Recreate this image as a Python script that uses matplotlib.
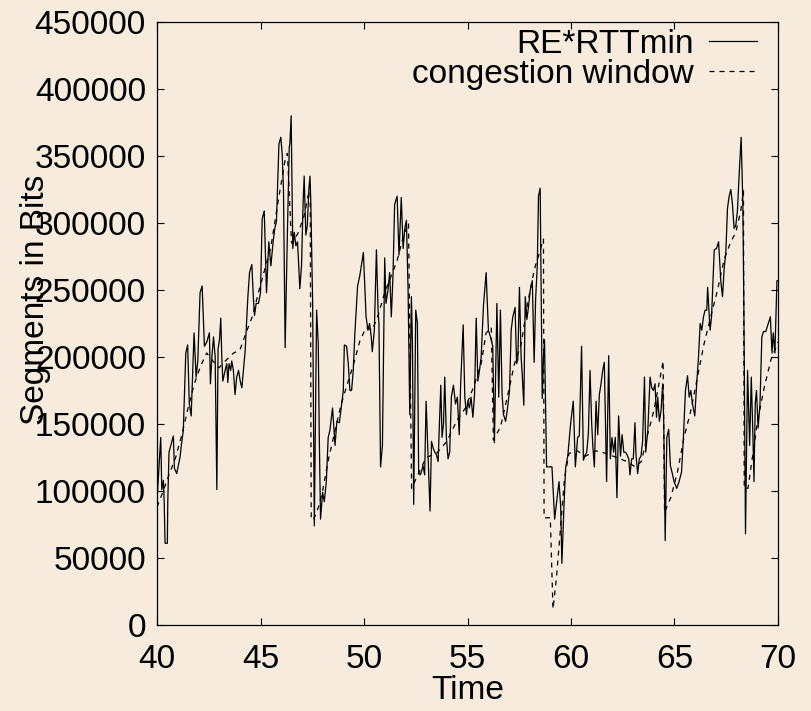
import numpy as np
import matplotlib
matplotlib.use("Agg")
import matplotlib.pyplot as plt

# RE*RTTmin samples: time (s), value (kbit)
re_time = [
    40.0, 40.18, 40.23, 40.31, 40.35, 40.39, 40.5, 40.52, 40.58, 40.79,
    40.84, 40.95, 41.11, 41.19, 41.27, 41.39, 41.48, 41.56, 41.65, 41.79,
    41.89, 41.97, 42.08, 42.18, 42.29, 42.4, 42.53, 42.58, 42.65, 42.73,
    42.81, 42.89, 42.95, 43.02, 43.08, 43.13, 43.18, 43.29, 43.37, 43.42,
    43.48, 43.56, 43.61, 43.69, 43.77, 43.85, 43.94, 44.02, 44.1, 44.19,
    44.26, 44.39, 44.47, 44.58, 44.66, 44.71, 44.79, 44.9, 45.0, 45.08,
    45.18, 45.29, 45.4, 45.5, 45.61, 45.69, 45.77, 45.89, 45.98, 46.05,
    46.11, 46.19, 46.29, 46.39, 46.42, 46.48, 46.56, 46.63, 46.71, 46.79,
    46.9, 46.98, 47.06, 47.11, 47.19, 47.26, 47.34, 47.39, 47.43, 47.52,
    47.6, 47.71, 47.79, 47.84, 47.9, 48.0, 48.08, 48.18, 48.27, 48.35,
    48.48, 48.6, 48.69, 48.81, 48.92, 49.0, 49.05, 49.16, 49.24, 49.32,
    49.4, 49.48, 49.56, 49.69, 49.8, 49.97, 50.1, 50.19, 50.27, 50.35,
    50.4, 50.5, 50.6, 50.68, 50.72, 50.8, 50.89, 51.0, 51.06, 51.16,
    51.24, 51.32, 51.4, 51.48, 51.6, 51.69, 51.8, 51.89, 51.97, 52.05,
    52.13, 52.21, 52.29, 52.34, 52.4, 52.5, 52.58, 52.64, 52.71, 52.77,
    52.85, 52.93, 53.0, 53.1, 53.19, 53.26, 53.34, 53.42, 53.5, 53.58,
    53.71, 53.77, 53.84, 53.9, 53.98, 54.06, 54.14, 54.22, 54.32, 54.42,
    54.51, 54.6, 54.67, 54.79, 54.87, 54.95, 55.01, 55.09, 55.17, 55.26,
    55.34, 55.42, 55.5, 55.58, 55.66, 55.77, 55.9, 56.01, 56.11, 56.22,
    56.3, 56.42, 56.51, 56.59, 56.67, 56.74, 56.84, 56.92, 57.03, 57.11,
    57.19, 57.3, 57.37, 57.43, 57.51, 57.59, 57.64, 57.72, 57.79, 57.87,
    57.95, 58.03, 58.13, 58.22, 58.29, 58.37, 58.43, 58.51, 58.61, 58.67,
    58.72, 58.82, 59.08, 59.21, 59.32, 59.42, 59.5, 59.56, 59.66, 59.74,
    59.85, 59.98, 60.11, 60.21, 60.32, 60.4, 60.51, 60.6, 60.69, 60.76,
    60.84, 60.92, 61.0, 61.06, 61.13, 61.21, 61.29, 61.37, 61.45, 61.53,
    61.61, 61.72, 61.82, 61.9, 61.98, 62.06, 62.14, 62.22, 62.3, 62.39,
    62.47, 62.55, 62.63, 62.71, 62.79, 62.85, 62.93, 63.01, 63.09, 63.14,
    63.22, 63.3, 63.38, 63.46, 63.55, 63.61, 63.71, 63.82, 63.9, 63.98,
    64.06, 64.13, 64.19, 64.27, 64.35, 64.43, 64.48, 64.55, 64.63, 64.72,
    64.8, 64.88, 64.98, 65.11, 65.22, 65.34, 65.43, 65.53, 65.63, 65.71,
    65.79, 65.87, 65.98, 66.08, 66.16, 66.24, 66.32, 66.4, 66.48, 66.56,
    66.6, 66.72, 66.79, 66.92, 67.03, 67.13, 67.24, 67.32, 67.4, 67.48,
    67.56, 67.64, 67.72, 67.8, 67.88, 67.96, 68.04, 68.13, 68.22, 68.3,
    68.35, 68.43, 68.53, 68.63, 68.71, 68.79, 68.84, 68.9, 68.96, 69.04,
    69.13, 69.22, 69.3, 69.41, 69.53, 69.63, 69.71, 69.77, 69.85, 69.95,
    70.03,
]
re_kbit = [
    93, 140, 101, 108, 90, 61, 61, 92, 129, 141,
    117, 113, 125, 136, 145, 203, 209, 165, 156, 218,
    185, 197, 248, 253, 208, 211, 218, 180, 200, 215,
    200, 101, 206, 213, 229, 200, 182, 190, 195, 181,
    195, 190, 197, 190, 172, 185, 190, 182, 177, 193,
    205, 245, 263, 269, 243, 231, 240, 240, 248, 303,
    309, 248, 286, 268, 286, 296, 301, 359, 364, 351,
    324, 207, 286, 357, 359, 380, 281, 293, 283, 286,
    251, 268, 316, 335, 291, 298, 326, 335, 316, 238,
    74, 235, 210, 140, 79, 99, 92, 107, 140, 145,
    162, 134, 152, 151, 165, 175, 209, 208, 195, 175,
    175, 190, 218, 253, 261, 278, 230, 220, 225, 215,
    204, 220, 280, 235, 225, 118, 134, 274, 240, 250,
    263, 230, 261, 314, 320, 276, 319, 281, 296, 302,
    250, 157, 245, 210, 90, 235, 225, 114, 112, 114,
    119, 112, 167, 124, 85, 137, 132, 129, 127, 122,
    179, 140, 150, 185, 140, 124, 129, 170, 179, 165,
    170, 142, 180, 224, 170, 157, 167, 162, 170, 155,
    172, 229, 182, 190, 200, 238, 263, 220, 215, 208,
    136, 240, 170, 235, 172, 157, 152, 160, 175, 220,
    230, 237, 195, 198, 252, 200, 188, 164, 245, 228,
    238, 250, 257, 196, 243, 268, 320, 326, 169, 200,
    213, 118, 118, 79, 94, 107, 89, 46, 89, 117,
    127, 150, 167, 118, 140, 141, 208, 123, 127, 129,
    143, 190, 150, 132, 118, 167, 142, 172, 180, 190,
    196, 107, 201, 124, 140, 129, 140, 95, 156, 126,
    142, 129, 129, 127, 124, 112, 124, 124, 151, 127,
    113, 124, 126, 137, 185, 129, 145, 185, 177, 175,
    180, 155, 170, 152, 160, 180, 152, 63, 140, 146,
    119, 114, 107, 102, 107, 114, 140, 175, 186, 170,
    175, 165, 156, 182, 200, 225, 220, 230, 235, 235,
    252, 220, 230, 280, 281, 286, 256, 245, 266, 278,
    311, 320, 325, 314, 296, 298, 309, 338, 364, 316,
    240, 68, 190, 134, 185, 140, 107, 165, 175, 147,
    165, 215, 219, 219, 225, 230, 203, 218, 203, 257,
    257,
]

# congestion window samples: time (s), value (kbit)
cw_time = [
    40.0, 40.3, 40.6, 40.9, 41.2, 41.5, 41.8, 42.1, 42.4, 42.7,
    43.0, 43.3, 43.7, 44.0, 44.3, 44.6, 44.9, 45.2, 45.5, 45.85,
    46.2, 46.3, 46.5, 46.8, 47.1, 47.4, 47.45, 47.55, 47.8, 48.0,
    48.3, 48.6, 48.9, 49.2, 49.5, 49.8, 50.1, 50.4, 50.7, 51.0,
    51.3, 51.6, 51.9, 52.15, 52.3, 52.6, 53.0, 53.5, 54.0, 54.5,
    54.9, 55.3, 55.66, 55.9, 56.15, 56.25, 56.6, 56.95, 57.27, 57.6,
    57.9, 58.24, 58.48, 58.67, 58.7, 59.0, 59.13, 59.29, 59.45, 59.69,
    59.9, 60.3, 60.7, 61.2, 61.7, 62.2, 62.7, 63.1, 63.4, 63.7,
    64.0, 64.25, 64.45, 64.52, 64.82, 65.14, 65.46, 65.79, 66.11, 66.43,
    66.75, 67.08, 67.4, 67.72, 67.96, 68.2, 68.33, 68.37, 68.55, 69.01,
    69.33, 69.66, 70.03,
]
cw_kbit = [
    88, 100, 113, 125, 142, 162, 180, 193, 203, 197,
    192, 197, 203, 205, 218, 230, 248, 265, 282, 316,
    348, 352, 285, 292, 305, 328, 80, 78, 88, 100,
    125, 145, 165, 180, 195, 212, 222, 220, 232, 248,
    260, 272, 290, 300, 102, 112, 125, 128, 137, 153,
    162, 178, 195, 218, 222, 138, 148, 172, 195, 210,
    240, 266, 278, 288, 80, 80, 12, 34, 64, 110,
    128, 130, 126, 130, 128, 125, 122, 118, 122, 142,
    160, 180, 197, 84, 95, 114, 140, 160, 185, 210,
    230, 250, 273, 286, 293, 309, 324, 102, 102, 152,
    177, 198, 212,
]

y_ticks = [0, 50000, 100000, 150000, 200000, 250000, 300000, 350000, 400000, 450000]
x_ticks = [40, 45, 50, 55, 60, 65, 70]

bg = "#f6ebdd"
plt.rcParams["font.family"] = ["Liberation Sans", "DejaVu Sans"]

fig = plt.figure(figsize=(8.11, 7.11), dpi=100, facecolor=bg)
ax = fig.add_axes([0.1936, 0.121, 0.7657, 0.848], facecolor=bg)

ax.plot(re_time, np.array(re_kbit) * 1000, color="black", lw=0.9,
        label="RE*RTTmin")
ax.plot(cw_time, np.array(cw_kbit) * 1000, color="black", lw=0.9,
        dashes=(4, 4), label="congestion window")

ax.set_xlim(40, 70)
ax.set_ylim(0, 450000)
ax.set_xticks(x_ticks)
ax.set_yticks(y_ticks)
ax.set_yticklabels([str(v) for v in y_ticks])
ax.tick_params(direction="in", length=5, width=0.8, top=True, right=True,
               labelsize=24)
ax.tick_params(axis="x", pad=14)
ax.tick_params(axis="y", pad=8)
for s in ax.spines.values():
    s.set_linewidth(0.9)

ax.set_xlabel("Time", fontsize=24, labelpad=0)
ax.set_ylabel("Segments in Bits", fontsize=24)
ax.yaxis.set_label_coords(-0.17, 0.54)

ax.legend(loc="upper right", bbox_to_anchor=(0.966, 0.989), frameon=False,
          markerfirst=False, fontsize=24, handlelength=1.45,
          handletextpad=0.45, borderpad=0, borderaxespad=0,
          labelspacing=-0.03)

fig.savefig("out.png", dpi=100, facecolor=bg)
